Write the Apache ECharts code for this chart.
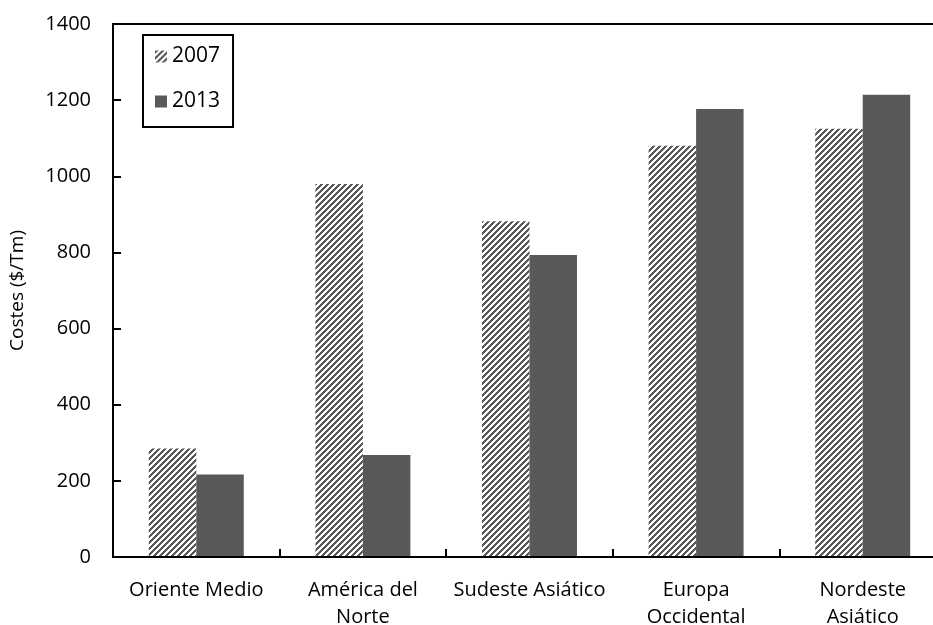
<!DOCTYPE html>
<html>
<head>
<meta charset="utf-8">
<script src="https://cdn.jsdelivr.net/npm/echarts@6/dist/echarts.min.js"></script>
<style>
  html, body { margin: 0; padding: 0; background: #fff; }
  #chart { width: 933px; height: 625px; }
</style>
</head>
<body>
<div id="chart"></div>
<script>
var categories = ['Oriente Medio', 'América del\nNorte', 'Sudeste Asiático', 'Europa\nOccidental', 'Nordeste\nAsiático'];
var years = ['2007', '2013'];
var costs2007 = [285, 980, 882, 1080, 1125];
var costs2013 = [217, 268, 793, 1177, 1214];

// hatch for 2007 bars
var tile = document.createElement('canvas');
tile.width = 6;
tile.height = 6;
var ctx = tile.getContext('2d');
ctx.fillStyle = '#ffffff';
ctx.fillRect(0, 0, 6, 6);
ctx.fillStyle = '#595959';
for (var x = 0; x < 6; x++) {
    for (var y = 0; y < 6; y++) {
        if ((x + y) % 6 < 3) ctx.fillRect(x, y, 1, 1);
    }
}
var hatch = { image: tile, repeat: 'repeat' };

var dom = document.getElementById('chart');
var myChart = echarts.init(dom);
var font = '"Open Sans", "Noto Sans", sans-serif';

var option = {
    animation: false,
    textStyle: { fontFamily: font },
    grid: {
        left: 113,
        top: 24,
        right: -13,
        bottom: 68,
        outerBoundsMode: 'none',
        show: true,
        borderColor: '#000',
        borderWidth: 2
    },
    legend: {
        orient: 'vertical',
        left: 143,
        top: 35,
        padding: [11, 13, 15, 12],
        itemGap: 24,
        itemWidth: 12,
        itemHeight: 12,
        icon: 'rect',
        borderColor: '#000',
        borderWidth: 2,
        textStyle: { fontSize: 21, color: '#000', fontFamily: font },
        data: years
    },
    xAxis: {
        type: 'category',
        data: categories,
        z: 5,
        axisLine: { lineStyle: { color: '#000', width: 2 } },
        axisTick: { show: true, inside: true, length: 8, lineStyle: { color: '#000', width: 2 } },
        axisLabel: { color: '#000', fontSize: 20, margin: 20, lineHeight: 27, interval: 0 }
    },
    yAxis: {
        type: 'value',
        min: 0,
        max: 1400,
        interval: 200,
        z: 5,
        name: 'Costes ($/Tm)',
        nameLocation: 'middle',
        nameGap: 86,
        nameTextStyle: { color: '#000', fontSize: 19 },
        axisLine: { show: true, lineStyle: { color: '#000', width: 2 } },
        axisTick: { show: true, inside: true, length: 8, lineStyle: { color: '#000', width: 2 } },
        axisLabel: { color: '#000', fontSize: 20, margin: 22, formatter: function (v) { return String(v); } },
        splitLine: { show: false }
    },
    series: [
        {
            name: years[0],
            type: 'bar',
            data: costs2007,
            barGap: '0%',
            barCategoryGap: '43%',
            itemStyle: { color: hatch }
        },
        {
            name: years[1],
            type: 'bar',
            data: costs2013,
            itemStyle: { color: '#595959' }
        }
    ]
};
myChart.setOption(option);
</script>
</body>
</html>
